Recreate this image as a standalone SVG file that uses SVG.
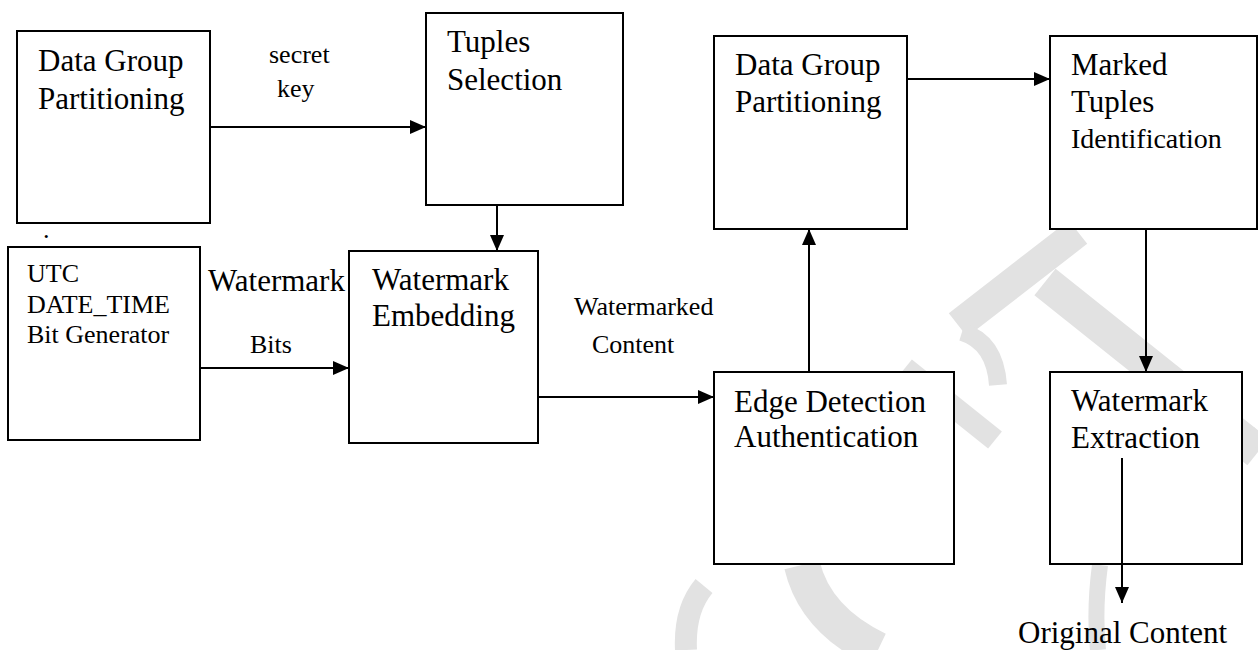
<svg xmlns="http://www.w3.org/2000/svg" width="1258" height="650" viewBox="0 0 1258 650">
<style>
.box{fill:#fff;stroke:#000;stroke-width:2}
.t{font-family:"Liberation Serif","Times New Roman",serif;font-size:31px;fill:#000}
.s{font-family:"Liberation Serif","Times New Roman",serif;font-size:26px;fill:#000}
.m{font-family:"Liberation Serif","Times New Roman",serif;font-size:28px;fill:#000}
.c{stroke:#000;stroke-width:2;fill:none;marker-end:url(#ah)}
.wm{fill:none;stroke:#e2e2e2;stroke-linecap:butt}
</style>
<defs>
<marker id="ah" markerUnits="userSpaceOnUse" markerWidth="16" markerHeight="14" refX="16" refY="7" orient="auto">
<path d="M0,0 L16,7 L0,14 z" fill="#000"/>
</marker>
</defs>
<rect width="1258" height="650" fill="#fff"/>
<g id="watermark-bg">
<path class="wm" stroke-width="30" d="M1078,232 L958,325"/>
<path class="wm" stroke-width="18" d="M962,332 Q995,342 998,385"/>
<path class="wm" stroke-width="34" d="M1045,282 L1258,452"/>
<path class="wm" stroke-width="22" d="M905,368 L995,440"/>
<path class="wm" stroke-width="36" d="M802,565 Q815,620 878,650"/>
<path class="wm" stroke-width="22" d="M704,586 Q684,610 686,650"/>
<path class="wm" stroke-width="16" d="M1100,565 Q1094,610 1098,650"/>
<path class="wm" stroke-width="16" d="M1248,432 L1258,446"/>
</g>
<g id="connectors">
<line class="c" x1="210" y1="127" x2="426" y2="127"/>
<line class="c" x1="497" y1="199" x2="497" y2="251"/>
<line class="c" x1="187" y1="368" x2="349" y2="368"/>
<line class="c" x1="538" y1="397" x2="714" y2="397"/>
<line class="c" x1="809" y1="372" x2="809" y2="229"/>
<line class="c" x1="907" y1="79" x2="1050" y2="79"/>
<line class="c" x1="1146" y1="229" x2="1146" y2="372"/>
</g>
<g id="n-dgp1">
<rect class="box" x="17" y="31" width="193" height="192"/>
<text class="t" x="38" y="71">Data Group</text>
<text class="t" x="38" y="109">Partitioning</text>
</g>
<g id="n-tuples">
<rect class="box" x="426" y="13" width="197" height="192"/>
<text class="t" x="447" y="52">Tuples</text>
<text class="t" x="447" y="90">Selection</text>
</g>
<g id="n-utc">
<text class="s" x="43" y="238">.</text>
<rect class="box" x="8" y="247" width="192" height="193"/>
<text class="s" x="27" y="282">UTC</text>
<text class="s" x="27" y="313">DATE_TIME</text>
<text class="s" x="27" y="343">Bit Generator</text>
</g>
<g id="n-embed">
<rect class="box" x="349" y="251" width="189" height="192"/>
<text class="t" x="372" y="290">Watermark</text>
<text class="t" x="372" y="326">Embedding</text>
</g>
<g id="n-dgp2">
<rect class="box" x="714" y="36" width="193" height="193"/>
<text class="t" x="735" y="75">Data Group</text>
<text class="t" x="735" y="112">Partitioning</text>
</g>
<g id="n-marked">
<rect class="box" x="1050" y="36" width="207" height="193"/>
<text class="t" x="1071" y="75">Marked</text>
<text class="t" x="1071" y="112">Tuples</text>
<text class="m" x="1071" y="148">Identification</text>
</g>
<g id="n-edge">
<rect class="box" x="714" y="372" width="240" height="192"/>
<text class="t" x="734" y="412">Edge Detection</text>
<text class="t" x="734" y="447">Authentication</text>
</g>
<g id="n-extract">
<rect class="box" x="1050" y="372" width="192" height="192"/>
<text class="t" x="1071" y="411">Watermark</text>
<text class="t" x="1071" y="448">Extraction</text>
</g>
<g id="connectors-inner">
<line class="c" x1="1122" y1="458" x2="1122" y2="603"/>
</g>
<g id="labels">
<text class="s" x="269" y="63">secret</text>
<text class="s" x="277" y="97">key</text>
<text class="t" x="208" y="291">Watermark</text>
<text class="s" x="250" y="353">Bits</text>
<text class="s" x="574" y="315">Watermarked</text>
<text class="s" x="592" y="353">Content</text>
<text class="t" x="1018" y="643">Original Content</text>
</g>
</svg>
